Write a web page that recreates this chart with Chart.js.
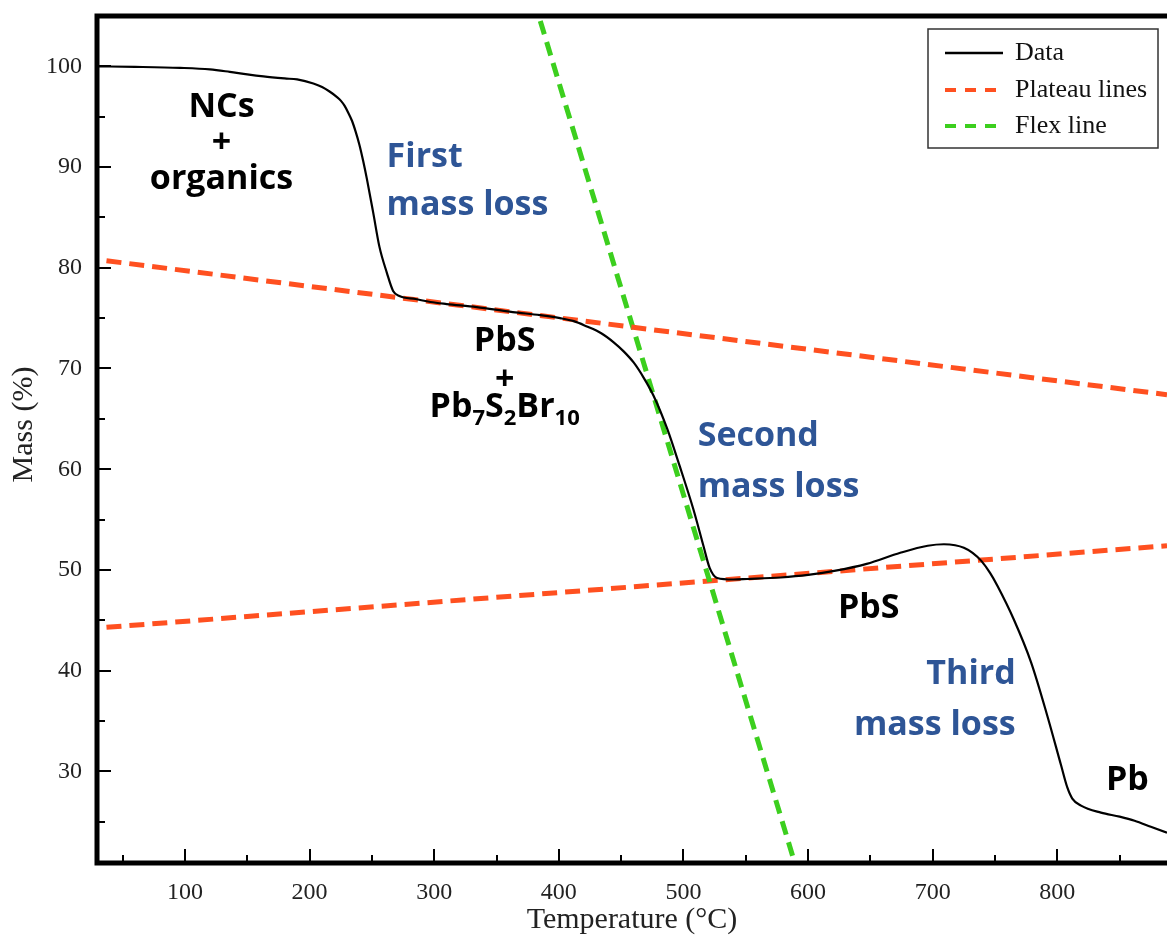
<!DOCTYPE html>
<html>
<head>
<meta charset="utf-8">
<script src="https://cdn.jsdelivr.net/npm/chart.js@4.4.1/dist/chart.umd.min.js"></script>
<style>
html, body { margin: 0; padding: 0; background: #fff; }
#wrap { width: 1167px; height: 939px; }
</style>
</head>
<body>
<div id="wrap"><canvas id="tga" width="1167" height="939"></canvas></div>
<script>
// TGA curve (°C, %)
const dataTemps = [29, 60, 96, 120, 136, 150, 163, 180, 190, 203, 210, 216, 222, 225, 228, 231, 234, 237, 240, 243, 246, 251, 256, 262, 267, 272,
  285, 297, 310, 334, 363, 385, 401, 412, 422, 434, 444, 452, 460, 468, 476, 487, 497, 508, 516, 521, 527, 540,
  551, 578, 600, 621, 647, 674, 696, 709, 718, 725, 732, 739, 746, 752, 765, 779, 792, 803, 808, 812, 819, 835,
  850, 862, 875, 888];
const dataMass = [100.0, 99.95, 99.85, 99.7, 99.45, 99.2, 99.0, 98.8, 98.7, 98.3, 97.95, 97.5, 96.95, 96.6, 96.1, 95.4, 94.6, 93.5, 92.2, 90.6, 88.8, 85.5, 82.1, 79.5, 77.7, 77.2,
  76.9, 76.6, 76.4, 76.1, 75.6, 75.3, 75.0, 74.7, 74.2, 73.5, 72.6, 71.7, 70.6, 69.1, 67.3, 64.0, 60.3, 56.0, 52.4, 50.2, 49.2, 49.05,
  49.1, 49.25, 49.5, 49.9, 50.6, 51.7, 52.4, 52.55, 52.45, 52.2, 51.7, 50.9, 49.7, 48.4, 45.1, 40.8, 35.5, 30.6, 28.4, 27.3, 26.6, 25.9,
  25.5, 25.1, 24.5, 23.9];

// straight guide lines (end points)
const plateau1Temps = [37, 888];
const plateau1Mass = [80.7, 67.4];
const plateau2Temps = [37, 888];
const plateau2Mass = [44.3, 52.4];
const flexTemps = [380, 592];
const flexMass = [106.6, 19.8];

// axes
const xTicks = [100, 200, 300, 400, 500, 600, 700, 800];
const xMinor = [50, 150, 250, 350, 450, 550, 650, 750, 850];
const yTicks = [30, 40, 50, 60, 70, 80, 90, 100];
const yMinor = [25, 35, 45, 55, 65, 75, 85, 95];

// labels written on the plot (data coords, y = text baseline)
const BLACK = "#000";
const BLUE = "#2E5596";
const notes = [
  { parts: [["NCs"]], x: 129.3, y: 95.0, color: BLACK, align: "center" },
  { parts: [["+"]], x: 129.3, y: 91.4, color: BLACK, align: "center" },
  { parts: [["organics"]], x: 129.3, y: 87.8, color: BLACK, align: "center" },
  { parts: [["First"]], x: 261.8, y: 90.05, color: BLUE, align: "left" },
  { parts: [["mass loss"]], x: 261.8, y: 85.2, color: BLUE, align: "left" },
  { parts: [["PbS"]], x: 356.5, y: 71.7, color: BLACK, align: "center" },
  { parts: [["+"]], x: 356.5, y: 67.9, color: BLACK, align: "center" },
  { parts: [["Pb"], ["7", 1], ["S"], ["2", 1], ["Br"], ["10", 1]], x: 356.5, y: 65.2, color: BLACK, align: "center" },
  { parts: [["Second"]], x: 511.4, y: 62.3, color: BLUE, align: "left" },
  { parts: [["mass loss"]], x: 511.4, y: 57.2, color: BLUE, align: "left" },
  { parts: [["PbS"]], x: 648.7, y: 45.2, color: BLACK, align: "center" },
  { parts: [["Third"]], x: 766.6, y: 38.7, color: BLUE, align: "right" },
  { parts: [["mass loss"]], x: 766.6, y: 33.6, color: BLUE, align: "right" },
  { parts: [["Pb"]], x: 856.2, y: 28.1, color: BLACK, align: "center" }
];

const RED = "#FF5020";
const GREEN = "#3CCF1E";
const SERIF = "'Liberation Serif', 'Times New Roman', serif";

const toPoints = (xs, ys) => xs.map((v, i) => ({ x: v, y: ys[i] }));

const frameAndTicks = {
  id: "frameAndTicks",
  afterDatasetsDraw(chart) {
    const { ctx, chartArea: a, scales: { x, y } } = chart;
    ctx.save();
    ctx.strokeStyle = "#000";
    ctx.lineWidth = 2;
    ctx.beginPath();
    xTicks.concat(xMinor).forEach(t => {
      const px = Math.round(x.getPixelForValue(t));
      const len = xTicks.includes(t) ? 14 : 8;
      ctx.moveTo(px, a.bottom);
      ctx.lineTo(px, a.bottom - len);
    });
    yTicks.concat(yMinor).forEach(t => {
      const py = Math.round(y.getPixelForValue(t));
      const len = yTicks.includes(t) ? 14 : 8;
      ctx.moveTo(a.left, py);
      ctx.lineTo(a.left + len, py);
    });
    ctx.stroke();

    ctx.lineWidth = 5;
    ctx.beginPath();
    ctx.moveTo(a.right + 5, a.top);
    ctx.lineTo(a.left, a.top);
    ctx.lineTo(a.left, a.bottom);
    ctx.lineTo(a.right + 5, a.bottom);
    ctx.stroke();
    ctx.restore();
  }
};

const notesPlugin = {
  id: "notes",
  afterDatasetsDraw(chart) {
    const { ctx, scales: { x, y } } = chart;
    const big = "bold 34px 'Open Sans', Lato, sans-serif";
    const small = "bold 22px 'Open Sans', Lato, sans-serif";
    ctx.save();
    ctx.textBaseline = "alphabetic";
    ctx.textAlign = "left";
    notes.forEach(n => {
      let w = 0;
      n.parts.forEach(([t, sub]) => {
        ctx.font = sub ? small : big;
        w += ctx.measureText(t).width;
      });
      let px = x.getPixelForValue(n.x);
      const py = y.getPixelForValue(n.y);
      if (n.align === "center") px -= w / 2;
      else if (n.align === "right") px -= w;
      ctx.fillStyle = n.color;
      n.parts.forEach(([t, sub]) => {
        ctx.font = sub ? small : big;
        ctx.fillText(t, px, sub ? py + 8 : py);
        px += ctx.measureText(t).width;
      });
    });
    ctx.restore();
  }
};

const boxLegend = {
  id: "boxLegend",
  afterDraw(chart) {
    const { ctx } = chart;
    const box = { left: 928, top: 29, right: 1158, bottom: 148 };
    const rows = [53, 90, 126];
    ctx.save();
    ctx.fillStyle = "#fff";
    ctx.fillRect(box.left, box.top, box.right - box.left, box.bottom - box.top);
    ctx.strokeStyle = "#333";
    ctx.lineWidth = 1.5;
    ctx.strokeRect(box.left, box.top, box.right - box.left, box.bottom - box.top);
    const shown = chart.data.datasets.filter(d => d.label);
    shown.forEach((d, i) => {
      const yy = rows[i];
      ctx.beginPath();
      ctx.strokeStyle = d.borderColor;
      ctx.lineWidth = d.borderDash ? 4 : 2.5;
      ctx.setLineDash(d.borderDash ? [11, 9] : []);
      ctx.moveTo(945, yy);
      ctx.lineTo(1003, yy);
      ctx.stroke();
      ctx.setLineDash([]);
      ctx.fillStyle = "#111";
      ctx.font = "26px " + SERIF;
      ctx.textBaseline = "middle";
      ctx.fillText(d.label, 1015, yy);
    });
    ctx.restore();
  }
};

new Chart(document.getElementById("tga"), {
  type: "line",
  data: {
    datasets: [
      {
        label: "Data",
        data: toPoints(dataTemps, dataMass),
        borderColor: "#000",
        borderWidth: 2.2,
        pointRadius: 0,
        cubicInterpolationMode: "monotone",
        order: 0
      },
      {
        label: "Plateau lines",
        data: toPoints(plateau1Temps, plateau1Mass),
        borderColor: RED,
        borderWidth: 5,
        borderDash: [15, 8],
        pointRadius: 0,
        order: 1
      },
      {
        label: "Flex line",
        data: toPoints(flexTemps, flexMass),
        borderColor: GREEN,
        borderWidth: 5,
        borderDash: [14, 8],
        pointRadius: 0,
        order: 1
      },
      {
        label: "",
        data: toPoints(plateau2Temps, plateau2Mass),
        borderColor: RED,
        borderWidth: 5,
        borderDash: [15, 8],
        pointRadius: 0,
        order: 1
      }
    ]
  },
  options: {
    responsive: false,
    animation: false,
    layout: { padding: { top: 16, right: 0, left: 0, bottom: 0 } },
    plugins: { legend: { display: false }, tooltip: { enabled: false } },
    scales: {
      x: {
        type: "linear",
        min: 29.4,
        max: 888,
        grid: { display: false, drawTicks: false },
        border: { display: false },
        afterBuildTicks: s => { s.ticks = xTicks.map(v => ({ value: v })); },
        afterFit: s => { s.height = 76; s.paddingLeft = 0; s.paddingRight = 0; },
        ticks: { color: "#222", padding: 15, font: { family: SERIF, size: 24 }, maxRotation: 0 },
        title: { display: true, text: "Temperature (°C)", color: "#222", font: { family: SERIF, size: 30 }, padding: { top: 0, bottom: 1 } }
      },
      y: {
        type: "linear",
        min: 20.9,
        max: 105,
        grid: { display: false, drawTicks: false },
        border: { display: false },
        afterBuildTicks: s => { s.ticks = yTicks.map(v => ({ value: v })); },
        afterFit: s => { s.width = 97; s.paddingTop = 0; s.paddingBottom = 0; },
        ticks: { color: "#222", padding: 15, font: { family: SERIF, size: 24 } },
        title: { display: true, text: "    Mass (%)", color: "#222", font: { family: SERIF, size: 30 }, padding: { top: 6, bottom: 0 } }
      }
    }
  },
  plugins: [frameAndTicks, notesPlugin, boxLegend]
});
</script>
</body>
</html>
